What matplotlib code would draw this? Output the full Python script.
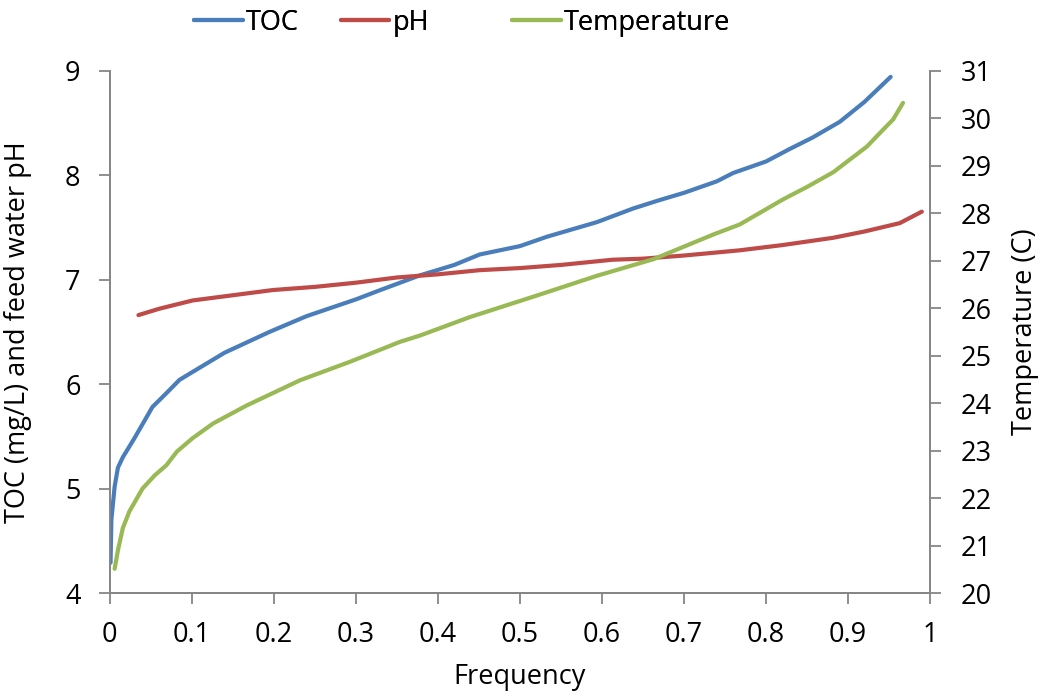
import matplotlib
matplotlib.use("Agg")
import matplotlib.pyplot as plt

plt.rcParams['font.family'] = ['Open Sans', 'DejaVu Sans']

# TOC (mg/L) against cumulative frequency
toc_freq = [0.001, 0.002, 0.006, 0.010, 0.016, 0.030, 0.052, 0.070, 0.085, 0.104,
            0.140, 0.195, 0.240, 0.300, 0.330, 0.378, 0.420, 0.451, 0.500, 0.533,
            0.594, 0.638, 0.670, 0.700, 0.740, 0.760, 0.800, 0.829, 0.857, 0.890,
            0.920, 0.952]
toc_vals = [4.29, 4.70, 5.02, 5.20, 5.30, 5.48, 5.78, 5.92, 6.04, 6.13,
            6.30, 6.50, 6.65, 6.81, 6.90, 7.04, 7.14, 7.24, 7.32, 7.41,
            7.55, 7.68, 7.76, 7.83, 7.94, 8.02, 8.13, 8.25, 8.36, 8.51,
            8.70, 8.94]

# feed water pH
ph_freq = [0.035, 0.060, 0.101, 0.150, 0.199, 0.250, 0.300, 0.350, 0.400, 0.451,
           0.500, 0.550, 0.613, 0.650, 0.700, 0.768, 0.820, 0.882, 0.920, 0.963,
           0.990]
ph_vals = [6.66, 6.72, 6.80, 6.85, 6.90, 6.93, 6.97, 7.02, 7.05, 7.09,
           7.11, 7.14, 7.19, 7.20, 7.23, 7.28, 7.33, 7.40, 7.46, 7.54,
           7.65]

# feed water temperature (C)
temp_freq = [0.006, 0.010, 0.016, 0.024, 0.040, 0.055, 0.069, 0.082, 0.101, 0.126,
             0.167, 0.232, 0.293, 0.354, 0.378, 0.439, 0.520, 0.594, 0.663, 0.736,
             0.768, 0.821, 0.850, 0.882, 0.923, 0.943, 0.955, 0.967]
temp_vals = [20.51, 20.90, 21.37, 21.72, 22.20, 22.48, 22.69, 22.98, 23.26, 23.57,
             23.95, 24.48, 24.87, 25.29, 25.42, 25.81, 26.26, 26.68, 27.03, 27.55,
             27.76, 28.29, 28.55, 28.86, 29.40, 29.76, 29.97, 30.32]

x_ticks = [0, 0.1, 0.2, 0.3, 0.4, 0.5, 0.6, 0.7, 0.8, 0.9, 1]
x_labels = ['0', '0.1', '0.2', '0.3', '0.4', '0.5', '0.6', '0.7', '0.8', '0.9', '1']
left_ticks = [4, 5, 6, 7, 8, 9]
right_ticks = list(range(20, 32))

BLUE = '#4a7ebb'
RED = '#be4b48'
GREEN = '#98b954'
AXIS_GRAY = '#868686'
FS = 19.5

fig = plt.figure(figsize=(10.45, 6.92), dpi=100)
ax = fig.add_axes([0.105, 0.143, 0.785, 0.755])
ax2 = ax.twinx()

l1, = ax.plot(toc_freq, toc_vals, color=BLUE, lw=3.0, solid_capstyle='round', label='TOC')
l2, = ax.plot(ph_freq, ph_vals, color=RED, lw=3.0, solid_capstyle='round', label='pH')
l3, = ax2.plot(temp_freq, temp_vals, color=GREEN, lw=3.0, solid_capstyle='round', label='Temperature')

ax.set_xlim(0, 1)
ax.set_ylim(4, 9)
ax2.set_ylim(20, 31)
ax.set_xticks(x_ticks)
ax.set_xticklabels(x_labels)
ax.set_yticks(left_ticks)
ax2.set_yticks(right_ticks)

for a in (ax, ax2):
    a.spines['top'].set_visible(False)
    for s in ('left', 'right', 'bottom'):
        a.spines[s].set_color(AXIS_GRAY)
        a.spines[s].set_linewidth(1.3)
    a.tick_params(direction='out', length=8, width=1.3, color=AXIS_GRAY,
                  labelsize=FS, labelcolor='black')
ax.tick_params(axis='x', pad=12)
ax.tick_params(axis='y', pad=13)
ax2.tick_params(axis='y', pad=14)

ax.set_xlabel('Frequency', fontsize=FS, labelpad=10)
ax.set_ylabel('TOC (mg/L) and feed water pH', fontsize=FS, labelpad=24)
ax2.set_ylabel('Temperature (C)', fontsize=FS, labelpad=14)

# one legend entry per series, laid out along the top edge
for handle, x0 in zip([l1, l2, l3], [0.186, 0.326, 0.490]):
    leg = fig.legend(handles=[handle], loc='center left', bbox_to_anchor=(x0, 0.967),
                     frameon=False, fontsize=FS, handlelength=1.8,
                     handletextpad=0.1, borderpad=0, borderaxespad=0)
    fig.add_artist(leg)

fig.savefig('out.png', dpi=100)
